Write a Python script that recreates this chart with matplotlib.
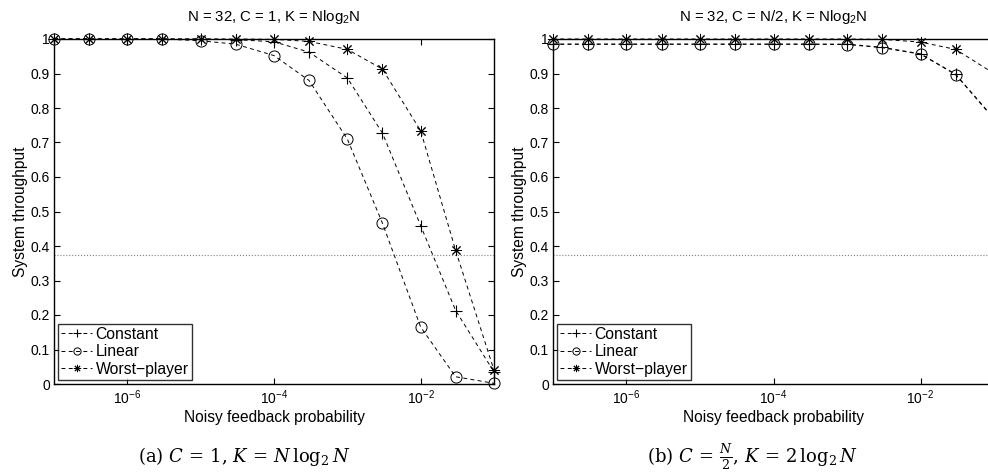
import matplotlib.pyplot as plt
from matplotlib.ticker import FixedLocator, FuncFormatter
import numpy as np

# noisy feedback probability (x axis, log scale)
prob = [1e-7, 3e-7, 1e-6, 3e-6, 1e-5, 3e-5, 1e-4, 3e-4, 1e-3, 3e-3, 1e-2, 3e-2, 1e-1]

# (a) N = 32, C = 1, K = N log2 N
constant_a = [1.0, 1.0, 1.0, 1.0, 1.0, 0.998, 0.992, 0.962, 0.887, 0.728, 0.459, 0.213, 0.035]
linear_a = [1.0, 1.0, 1.0, 1.0, 0.995, 0.985, 0.952, 0.880, 0.710, 0.467, 0.165, 0.021, 0.002]
worst_a = [1.0, 1.0, 1.0, 1.0, 1.0, 1.0, 0.999, 0.993, 0.970, 0.913, 0.734, 0.387, 0.040]

# (b) N = 32, C = N/2, K = 2 log2 N
constant_b = [0.985, 0.985, 0.985, 0.985, 0.985, 0.985, 0.985, 0.985, 0.985, 0.976, 0.957, 0.898, 0.770]
linear_b = [0.985, 0.985, 0.985, 0.985, 0.985, 0.985, 0.985, 0.985, 0.984, 0.975, 0.956, 0.897, 0.768]
worst_b = [1.0, 1.0, 1.0, 1.0, 1.0, 1.0, 1.0, 1.0, 1.0, 0.999, 0.991, 0.970, 0.900]

ref_level = 0.375
titles = ["N = 32, C = 1, K = Nlog$_2$N", "N = 32, C = N/2, K = Nlog$_2$N"]
captions = [r"(a) $C\,=\,1$, $K\,=\,N\,\log_2 N$",
            r"(b) $C\,=\,\frac{N}{2}$, $K\,=\,2\,\log_2 N$"]
labels = ["Constant", "Linear", "Worst\u2212player"]

plt.rcParams['font.family'] = ['Liberation Sans', 'DejaVu Sans']
plt.rcParams['mathtext.fontset'] = 'custom'
plt.rcParams['mathtext.rm'] = 'Liberation Sans'
plt.rcParams['mathtext.it'] = 'Liberation Sans'

fig = plt.figure(figsize=(9.88, 4.75), dpi=100)
ax_a = fig.add_axes([54 / 988, 91 / 475, 440 / 988, 345 / 475])
ax_b = fig.add_axes([553 / 988, 91 / 475, 441 / 988, 345 / 475])

star = (8, 2, 0)
panels = [(ax_a, constant_a, linear_a, worst_a), (ax_b, constant_b, linear_b, worst_b)]

for i, (ax, c, l, w) in enumerate(panels):
    kw = dict(color='black', linestyle='--', linewidth=0.7, dashes=(4, 3.5), clip_on=False)
    ax.plot(prob, c, marker='+', markersize=8, markeredgewidth=0.8, label=labels[0], **kw)
    ax.plot(prob, l, marker='o', markersize=8, markerfacecolor='none', markeredgewidth=0.7,
            label=labels[1], **kw)
    ax.plot(prob, w, marker=star, markersize=8, markeredgewidth=0.7, label=labels[2], **kw)
    ax.axhline(ref_level, color='gray', linestyle=':', linewidth=0.8)

    ax.set_xscale('log')
    ax.set_xlim(1e-7, 1e-1)
    ax.set_ylim(0, 1)
    ax.xaxis.set_major_locator(FixedLocator([1e-6, 1e-4, 1e-2]))
    ax.xaxis.set_minor_locator(FixedLocator([]))
    ax.set_yticks(np.arange(0, 1.01, 0.1))
    ax.yaxis.set_major_formatter(FuncFormatter(lambda v, pos: "%g" % round(v, 1)))
    ax.tick_params(direction='in', top=True, right=True, length=4, width=0.8,
                   labelsize=10, pad=3)
    for sp in ax.spines.values():
        sp.set_linewidth(1.0)

    ax.set_title(titles[i], fontsize=10.8, pad=13)
    ax.set_xlabel("Noisy feedback probability", fontsize=11.2, labelpad=2)
    ax.set_ylabel("System throughput", fontsize=11.2, labelpad=2)

    leg = ax.legend(loc='lower left', fontsize=11.3, frameon=True, fancybox=False,
                    edgecolor='black', borderaxespad=0.25, borderpad=0.2,
                    handlelength=2.0, handletextpad=0.2, labelspacing=0.16,
                    markerscale=0.65)
    leg.get_frame().set_linewidth(1.0)

fig.text(244 / 988, 1 - 457 / 475, captions[0], ha='center', va='center',
         fontsize=13, family='DejaVu Serif', math_fontfamily='dejavuserif')
fig.text(752 / 988, 1 - 457 / 475, captions[1], ha='center', va='center',
         fontsize=13, family='DejaVu Serif', math_fontfamily='dejavuserif')

plt.savefig("out.png", dpi=100)
